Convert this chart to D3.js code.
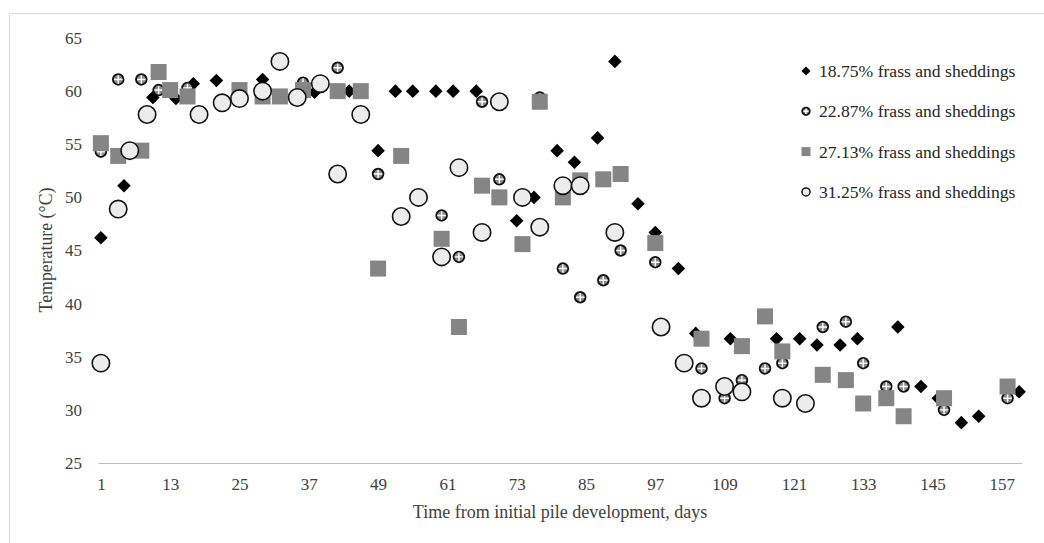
<!DOCTYPE html>
<html>
<head>
<meta charset="utf-8">
<script src="https://cdn.jsdelivr.net/npm/d3@7"></script>
<style>
body { margin: 0; background: #fff; }
text { font-family: "Liberation Serif", "Times New Roman", serif; }
</style>
</head>
<body>
<div id="chart"></div>
<script>
var width = 1044;
var height = 543;

// data
var days_1875 = [1, 5, 10, 14, 17, 21, 25, 29, 38, 44, 49, 52, 55, 59, 62, 66, 73, 76, 80, 83, 87, 90, 94, 97, 101, 104, 110, 118, 122, 125, 129, 132, 139, 143, 146, 150, 153, 160];
var temp_1875 = [46.2, 51.1, 59.4, 59.3, 60.7, 61.0, 60.0, 61.1, 59.9, 60.0, 54.4, 60.0, 60.0, 60.0, 60.0, 60.0, 47.8, 50.0, 54.4, 53.3, 55.6, 62.8, 49.4, 46.7, 43.3, 37.2, 36.7, 36.7, 36.7, 36.1, 36.1, 36.7, 37.8, 32.2, 31.1, 28.8, 29.4, 31.7];

var days_2287 = [1, 4, 8, 11, 16, 36, 42, 49, 60, 63, 67, 70, 77, 81, 84, 88, 91, 97, 105, 109, 112, 116, 119, 126, 130, 133, 137, 140, 147, 158];
var temp_2287 = [54.3, 61.1, 61.1, 60.1, 60.3, 60.8, 62.2, 52.2, 48.3, 44.4, 59.0, 51.7, 59.4, 43.3, 40.6, 42.2, 45.0, 43.9, 33.9, 31.1, 32.8, 33.9, 34.4, 37.8, 38.3, 34.4, 32.2, 32.2, 30.0, 31.1];

var days_2713 = [1, 4, 8, 11, 13, 16, 25, 29, 32, 36, 42, 46, 49, 53, 60, 63, 67, 70, 74, 77, 81, 84, 88, 91, 97, 105, 112, 116, 119, 126, 130, 133, 137, 140, 147, 158];
var temp_2713 = [55.1, 53.9, 54.4, 61.8, 60.1, 59.5, 60.1, 59.5, 59.5, 60.1, 60.0, 60.0, 43.3, 53.9, 46.1, 37.8, 51.1, 50.0, 45.6, 59.0, 50.0, 51.6, 51.7, 52.2, 45.7, 36.7, 36.0, 38.8, 35.5, 33.3, 32.8, 30.6, 31.1, 29.4, 31.1, 32.2];

var days_3125 = [1, 4, 6, 9, 18, 22, 25, 29, 32, 35, 39, 42, 46, 53, 56, 60, 63, 67, 70, 74, 77, 81, 84, 90, 98, 102, 105, 109, 112, 119, 123];
var temp_3125 = [34.4, 48.9, 54.4, 57.8, 57.8, 58.9, 59.3, 60.0, 62.8, 59.4, 60.7, 52.2, 57.8, 48.2, 50.0, 44.4, 52.8, 46.7, 59.0, 50.0, 47.2, 51.1, 51.1, 46.7, 37.8, 34.4, 31.1, 32.2, 31.7, 31.1, 30.6];

var series_names = ['18.75% frass and sheddings', '22.87% frass and sheddings', '27.13% frass and sheddings', '31.25% frass and sheddings'];
var x_ticks = [1, 13, 25, 37, 49, 61, 73, 85, 97, 109, 121, 133, 145, 157];
var y_ticks = [25, 30, 35, 40, 45, 50, 55, 60, 65];

function zip(days, temps){
    return days.map(function(d, i){ return {day: d, temp: temps[i]}; });
}

// the 22.87% marker: dark ring, grey inside, white cross
function hatchMarker(g, r){
    g.append('circle')
        .attr('r', r)
        .attr('fill', '#8a8a8a')
        .attr('stroke', '#111')
        .attr('stroke-width', 1.9);
    g.append('path')
        .attr('d', 'M' + (-r + 1) + ',0H' + (r - 1) + 'M0,' + (-r + 1) + 'V' + (r - 1))
        .attr('stroke', '#fff')
        .attr('stroke-width', 1.4);
}

var svg = d3.select('#chart')
    .append('svg')
        .attr('width', width)
        .attr('height', height);

// chart area border
svg.append('rect')
    .attr('x', 9.5)
    .attr('y', 13.5)
    .attr('width', 1100)
    .attr('height', 600)
    .attr('fill', 'none')
    .attr('stroke', '#d9d9d9');

var x_scale = d3.scaleLinear()
    .domain([0.5, 160.5])
    .range([98, 1022]);

var y_scale = d3.scaleLinear()
    .domain([25, 65])
    .range([463, 38]);

var x_axis = d3.axisBottom(x_scale)
    .tickValues(x_ticks)
    .tickSize(0)
    .tickPadding(15)
    .tickFormat(d3.format('d'));

var y_axis = d3.axisLeft(y_scale)
    .tickValues(y_ticks)
    .tickSize(0)
    .tickPadding(16);

svg.append('g')
    .attr('class', 'x-axis')
    .attr('transform', 'translate(0,463)')
    .call(x_axis)
    .call(function(g){ g.select('.domain').attr('stroke', '#bfbfbf').attr('stroke-width', 1.2); })
    .selectAll('text')
        .style('font-family', '"Liberation Serif", serif')
        .style('font-size', '17px')
        .attr('fill', '#404040');

svg.append('g')
    .attr('class', 'y-axis')
    .attr('transform', 'translate(98,0)')
    .call(y_axis)
    .call(function(g){ g.select('.domain').remove(); })
    .selectAll('text')
        .style('font-family', '"Liberation Serif", serif')
        .style('font-size', '17px')
        .attr('fill', '#404040');

// axis titles
svg.append('text')
    .attr('x', 560)
    .attr('y', 518)
    .attr('text-anchor', 'middle')
    .style('font-size', '18px')
    .attr('fill', '#404040')
    .text('Time from initial pile development, days');

svg.append('text')
    .attr('transform', 'translate(52,250)rotate(-90)')
    .attr('text-anchor', 'middle')
    .style('font-size', '17.8px')
    .attr('fill', '#404040')
    .text('Temperature (\u00B0C)');

var diamond = d3.symbol().type(d3.symbolSquare);

// 18.75%
svg.append('g').selectAll('path')
    .data(zip(days_1875, temp_1875))
    .enter()
    .append('path')
        .attr('d', diamond.size(92)())
        .attr('transform', function(d){ return 'translate(' + x_scale(d.day) + ',' + y_scale(d.temp) + ')rotate(45)'; })
        .attr('fill', '#000');

// 22.87%
svg.append('g').selectAll('g')
    .data(zip(days_2287, temp_2287))
    .enter()
    .append('g')
        .attr('transform', function(d){ return 'translate(' + x_scale(d.day) + ',' + y_scale(d.temp) + ')'; })
        .each(function(){ hatchMarker(d3.select(this), 5.3); });

// 27.13%
svg.append('g').selectAll('rect')
    .data(zip(days_2713, temp_2713))
    .enter()
    .append('rect')
        .attr('x', function(d){ return x_scale(d.day) - 8; })
        .attr('y', function(d){ return y_scale(d.temp) - 8; })
        .attr('width', 16)
        .attr('height', 16)
        .attr('fill', '#858585');

// 31.25%
svg.append('g').selectAll('circle')
    .data(zip(days_3125, temp_3125))
    .enter()
    .append('circle')
        .attr('cx', function(d){ return x_scale(d.day); })
        .attr('cy', function(d){ return y_scale(d.temp); })
        .attr('r', 8.7)
        .attr('fill', '#ececec')
        .attr('stroke', '#111')
        .attr('stroke-width', 1.6);

// legend
var legend = svg.append('g').attr('transform', 'translate(806,71)');
var rows = legend.selectAll('g')
    .data(series_names)
    .enter()
    .append('g')
        .attr('transform', function(d, i){ return 'translate(0,' + (i * 40.3) + ')'; });

rows.append('text')
    .attr('x', 13)
    .attr('y', 6)
    .style('font-size', '17.6px')
    .attr('fill', '#262626')
    .text(function(d){ return d; });

rows.filter(function(d, i){ return i === 0; })
    .append('path')
        .attr('d', diamond.size(42)())
        .attr('transform', 'rotate(45)')
        .attr('fill', '#000');
rows.filter(function(d, i){ return i === 1; })
    .append('g')
        .each(function(){ hatchMarker(d3.select(this), 3.7); });
rows.filter(function(d, i){ return i === 2; })
    .append('rect')
        .attr('x', -4.5)
        .attr('y', -4.5)
        .attr('width', 9)
        .attr('height', 9)
        .attr('fill', '#858585');
rows.filter(function(d, i){ return i === 3; })
    .append('circle')
        .attr('r', 4)
        .attr('fill', '#ececec')
        .attr('stroke', '#111')
        .attr('stroke-width', 1.5);
</script>
</body>
</html>
